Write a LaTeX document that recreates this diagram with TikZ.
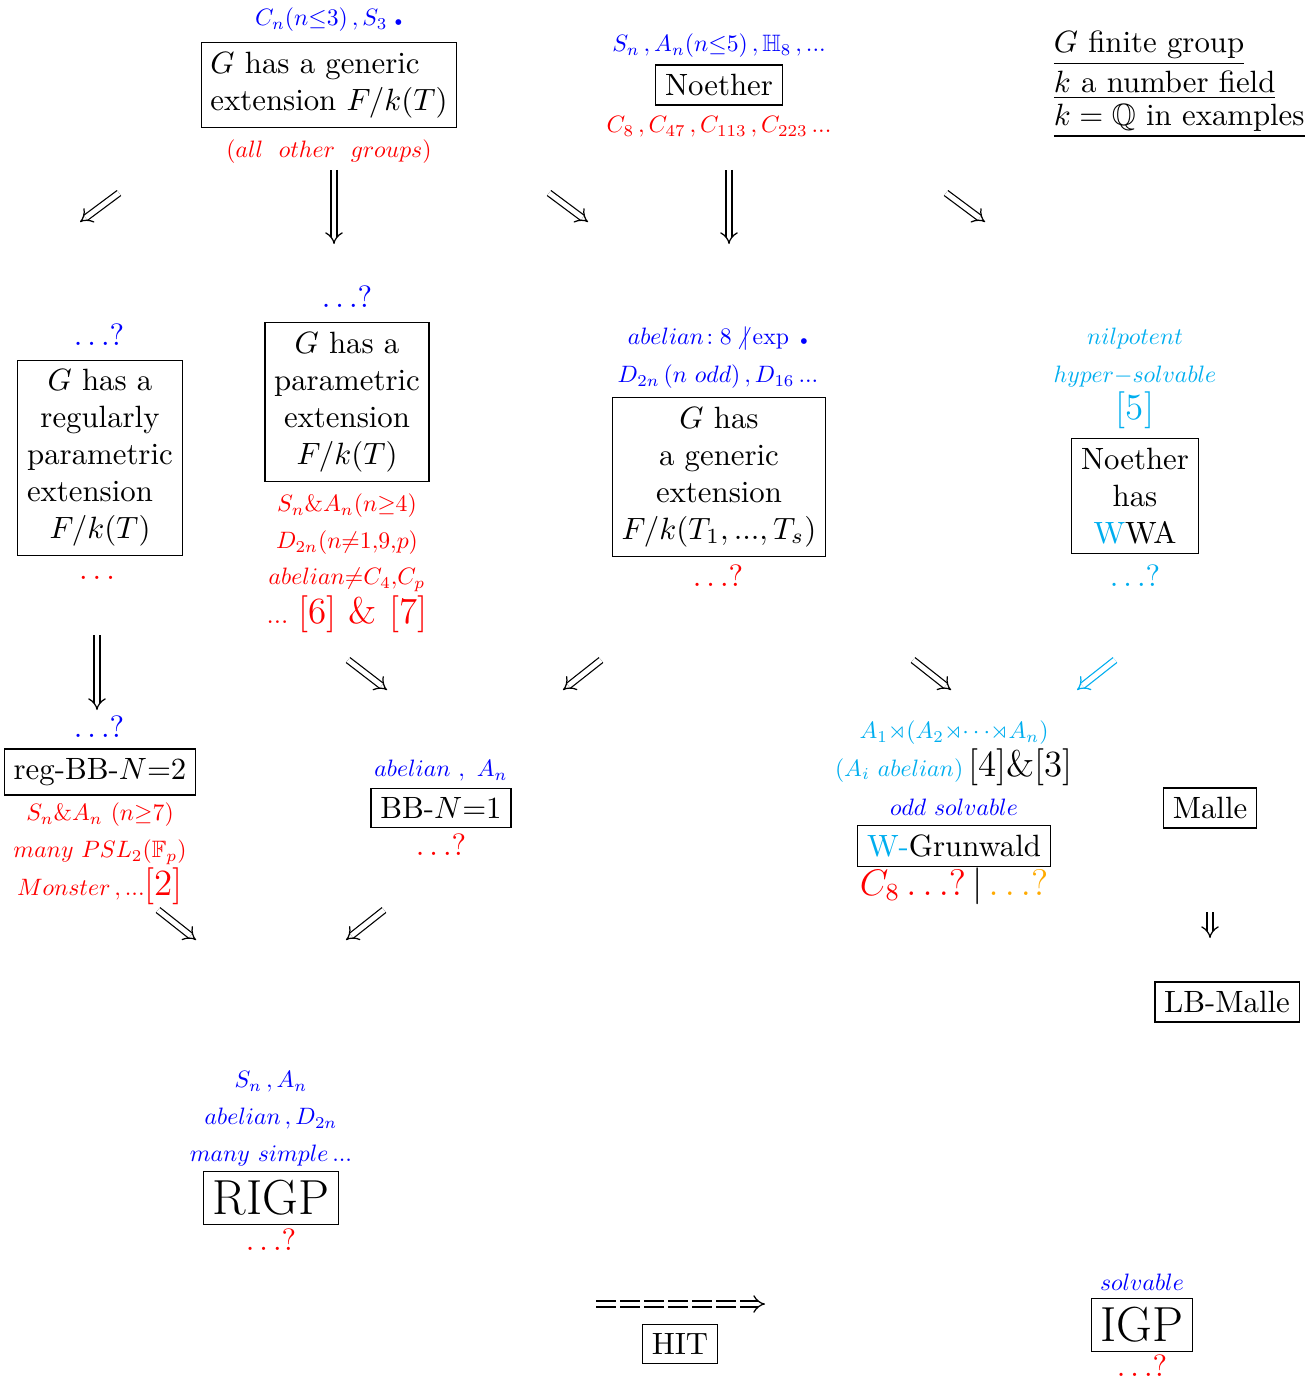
\documentclass[tikz,border=0pt]{standalone}
\usepackage{amsmath}
\usepackage{amssymb}
\usetikzlibrary{arrows.meta}

\definecolor{skyc}{RGB}{0,174,239}
\definecolor{ambr}{RGB}{255,170,0}

\tikzset{
  box/.style={draw, inner sep=3pt},
  bigbox/.style={draw, inner sep=3pt, font=\fontsize{16}{19}\selectfont},
  lbl/.style={scale=0.77, inner sep=1pt},
  imp/.style={double, double distance=1.6pt, -{Implies[scale=1.6]}},
}

\begin{document}
\begin{tikzpicture}[x=0.3247pt, y=-0.3247pt]
        \useasboundingbox (0,0) rectangle (1312,1394);
        % top row
        \node[lbl, text=blue] (gen1up) at (329,20) {$C_n(n{\leq}3)\,,S_3\;{\scriptscriptstyle\bullet}$};
        \node[box, align=left] (gen1) at (329,85) {$G$ has a generic\\extension $F/k(T)$};
        \node[lbl, text=red] (gen1dn) at (329,152) {$(all\ \ other\ \ groups)$};
        \node[lbl, text=blue] (noeup) at (719,46) {$S_n\,,A_n(n{\leq}5)\,,\mathbb{H}_8\,,...$};
        \node[box] (noe) at (719,85) {Noether};
        \node[lbl, text=red] (noedn) at (719,127) {$C_8\,,C_{47}\,,C_{113}\,,C_{223}\,...$};
        \node[anchor=west] (leg1) at (1043,48) {\underline{$G$ finite group}};
        \node[anchor=west] (leg2) at (1043,85) {\underline{$k$ a number field}};
        \node[anchor=west] (leg3) at (1043,121) {\underline{$k=\mathbb{Q}$ in examples}};
        \coordinate (a1s) at (119,193);
        \coordinate (a1e) at (80,222);
        \draw[imp] (a1s) -- (a1e);
        \coordinate (a2s) at (334,170);
        \coordinate (a2e) at (334,244);
        \draw[imp] (a2s) -- (a2e);
        \coordinate (a3s) at (549,193);
        \coordinate (a3e) at (588,222);
        \draw[imp] (a3s) -- (a3e);
        \coordinate (a4s) at (729,170);
        \coordinate (a4e) at (729,244);
        \draw[imp] (a4s) -- (a4e);
        \coordinate (a5s) at (946,193);
        \coordinate (a5e) at (985,222);
        \draw[imp] (a5s) -- (a5e);
        % second row
        \node[text=blue] (regup) at (99,335) {$\ldots?$};
        \node[box, align=center] (reg) at (100,458) {$G$ has a\\regularly\\parametric\\\mbox{extension}\rule{6.5pt}{0pt}\\$F/k(T)$};
        \node[text=red] (regdn) at (97,578) {$\ldots$};
        \node[text=blue] (parup) at (347,297) {$\ldots?$};
        \node[box, align=center] (par) at (347,402) {$G$ has a\\parametric\\extension\\$F/k(T)$};
        \node[lbl, text=red] (pardn1) at (347,506) {$S_n\&A_n(n{\geq}4)$};
        \node[lbl, text=red] (pardn2) at (347,543) {$D_{2n}(n{\neq}1{,}9{,}p)$};
        \node[lbl, text=red] (pardn3) at (347,580) {$abelian{\neq}C_4{,}C_p$};
        \node[text=red] (pardn4) at (347,614) {{\footnotesize$...$}\ {\large[6] \& [7]}};
        \node[lbl, text=blue] (genup1) at (718,339) {$abelian\!: 8\,{\not|}\exp\;{\scriptscriptstyle\bullet}$};
        \node[lbl, text=blue] (genup2) at (718,377) {$D_{2n}\,(n\ odd)\,,D_{16}\,...$};
        \node[box, align=center] (gen) at (719,477) {$G$ has\\a generic\\extension\\$F/k(T_1,...,T_s)$};
        \node[text=red] (gendn) at (718,576) {$\ldots?$};
        \node[lbl, text=skyc] (wwaup1) at (1135,339) {$nilpotent$};
        \node[lbl, text=skyc] (wwaup2) at (1135,377) {$hyper{-}solvable$};
        \node[text=skyc, font=\large] (wwaup3) at (1135,410) {[5]};
        \node[box, align=center] (wwa) at (1135,496) {Noether\\has\\\textcolor{skyc}{W}WA};
        \node[text=skyc] (wwadn) at (1135,576) {$\ldots?$};
        \coordinate (b1s) at (97,635);
        \coordinate (b1e) at (97,710);
        \draw[imp] (b1s) -- (b1e);
        \coordinate (b2s) at (348,660);
        \coordinate (b2e) at (387,690);
        \draw[imp] (b2s) -- (b2e);
        \coordinate (b3s) at (601,660);
        \coordinate (b3e) at (563,690);
        \draw[imp] (b3s) -- (b3e);
        \coordinate (b4s) at (913,660);
        \coordinate (b4e) at (951,690);
        \draw[imp] (b4s) -- (b4e);
        \coordinate (b5s) at (1115,660);
        \coordinate (b5e) at (1077,690);
        \draw[imp, skyc] (b5s) -- (b5e);
        % third row
        \node[text=blue] (bb2up) at (99,727) {$\ldots?$};
        \node[box] (bb2) at (100,772) {reg-BB-$N{=}2$};
        \node[lbl, text=red] (bb2dn1) at (100,815) {$S_n\&A_n\ (n{\geq}7)$};
        \node[lbl, text=red] (bb2dn2) at (100,852) {$many\ PSL_2(\mathbb{F}_p)$};
        \node[text=red] (bb2dn3) at (100,886) {\scalebox{0.77}{$Monster\,,...$}{\large[2]}};
        \node[lbl, text=blue] (bb1up) at (441,771) {$abelian\ ,\ A_n$};
        \node[box] (bb1) at (441,808) {BB-$N{=}1$};
        \node[text=red] (bb1dn) at (441,845) {$\ldots?$};
        \node[lbl, text=skyc] (grunup1) at (954,733) {$A_1{\rtimes}(A_2{\rtimes}{\cdots}{\rtimes}A_n)$};
        \node (grunup2) at (954,767) {\scalebox{0.77}{\color{skyc}$(A_i\ abelian)$}\,{\large[4]\&[3]}};
        \node[lbl, text=blue] (grunup3) at (954,807) {$odd\ solvable$};
        \node[box] (grun) at (954,846) {\textcolor{skyc}{W-}Grunwald};
        \node[font=\large, inner sep=1pt] (grundn) at (954,886) {\textcolor{red}{$C_8\ldots?$}\,$|$\,\textcolor{ambr}{$\ldots?$}};
        \node[box] (malle) at (1210,808) {Malle};
        \node[box] (lbmalle) at (1227,1002) {LB-Malle};
        \coordinate (c1s) at (158,910);
        \coordinate (c1e) at (196,940);
        \draw[imp] (c1s) -- (c1e);
        \coordinate (c2s) at (384,910);
        \coordinate (c2e) at (346,940);
        \draw[imp] (c2s) -- (c2e);
        \coordinate (c3s) at (1210,912);
        \coordinate (c3e) at (1210,938);
        \draw[imp] (c3s) -- (c3e);
        % bottom row
        \node[lbl, text=blue] (rigpup1) at (271,1082) {$S_n\,,A_n$};
        \node[lbl, text=blue] (rigpup2) at (271,1119) {$abelian\,,D_{2n}$};
        \node[lbl, text=blue] (rigpup3) at (271,1156) {$many\ simple\,...$};
        \node[bigbox] (rigp) at (271,1198) {RIGP};
        \node[text=red] (rigpdn) at (271,1240) {$\ldots?$};
        \coordinate (hits) at (596,1304);
        \coordinate (hite) at (765,1304);
        \draw[imp, dash pattern=on 6.4pt off 1.4pt] (hits) -- (hite);
        \node[box] (hit) at (680,1344) {HIT};
        \node[lbl, text=blue] (igpup) at (1142,1282) {$solvable$};
        \node[bigbox] (igp) at (1142,1325) {IGP};
        \node[text=red] (igpdn) at (1142,1366) {$\ldots?$};
\end{tikzpicture}
\end{document}
